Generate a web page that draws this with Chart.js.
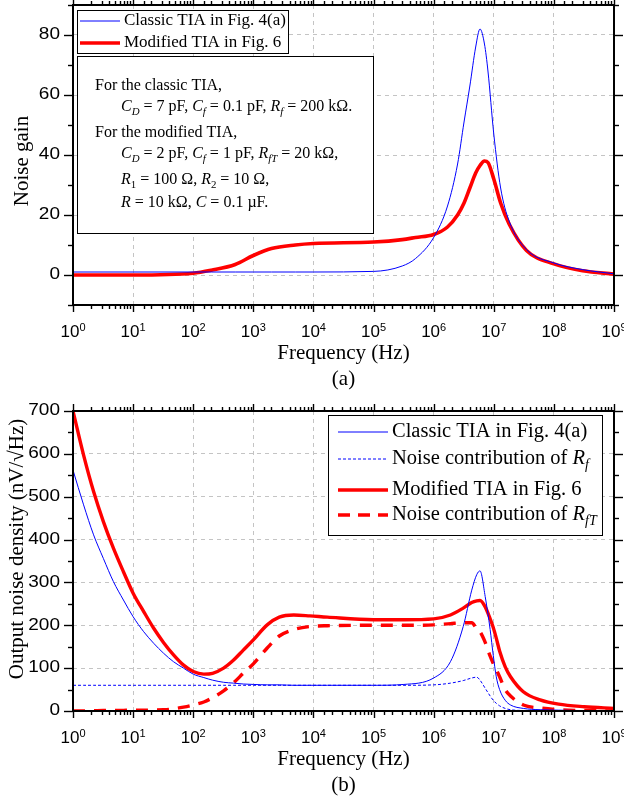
<!DOCTYPE html>
<html>
<head>
<meta charset="utf-8">
<script src="https://cdn.jsdelivr.net/npm/chart.js@4.4.0/dist/chart.umd.min.js"></script>
<style>
  html, body { margin: 0; padding: 0; background: #fff; }
  #wrap { position: relative; width: 624px; height: 799px; }
  canvas { position: absolute; left: 0; }
</style>
</head>
<body>
<div id="wrap">
  <canvas id="gain" width="624" height="400" style="top:0"></canvas>
  <canvas id="noise" width="624" height="399" style="top:400px"></canvas>
</div>
<script>
// ---- (a) noise gain ----
const freqGain = [1, 10, 100, 200, 500, 1e3, 2e3, 5e3, 1e4, 1e5, 3e5, 5e5, 1e6, 1.7e6, 2.5e6, 3.2e6,
  4e6, 5e6, 5.9e6, 7e6, 8e6, 1e7, 1.3e7, 1.8e7, 3.5e7, 1e8, 3e8, 1e9];
const classicGain = [1, 1, 1, 1, 1, 1, 1, 1, 1, 1.2, 3, 5.5, 12.5, 23, 37, 51,
  63, 76, 82, 77, 68, 47, 29, 18, 8.5, 4, 1.8, 0.4];
const modifiedGain = [0, 0, 0.6, 1.6, 3.5, 6.5, 8.8, 10, 10.5, 11, 11.8, 12.5, 13.5, 16, 20, 24,
  29, 34, 36.5, 38, 37.5, 32, 24, 17, 8.2, 3.7, 1.4, 0.3];

// ---- (b) output noise density (nV/sqrt(Hz)) ----
const freqNoise = [1, 1.5, 2.2, 3.2, 4.7, 6.9, 10, 15, 22, 32, 47, 69, 100, 150, 210, 320, 470, 680,
  1000, 1700, 2700, 4700, 8700, 1.7e4, 1e5, 3.2e5, 1e6, 1.9e6, 3.1e6, 4.3e6, 5.2e6, 5.9e6,
  7.2e6, 8.7e6, 9.8e6, 1.1e7, 1.25e7, 1.55e7, 1.9e7, 3.1e7, 5.9e7, 1.2e8, 3.2e8, 1e9];
const classicNoise = [562, 481, 411, 356, 302, 259, 220, 185, 158, 135, 115, 100, 86, 78, 72, 67, 65, 63,
  62, 61, 61, 60, 60, 60, 60, 62, 77, 115, 197, 282, 318, 327,
  267, 190, 130, 80, 50, 25, 14, 6, 3, 2, 1, 1];
const rfNoise = [60, 60, 60, 60, 60, 60, 60, 60, 60, 60, 60, 60, 60, 60, 60, 60, 60, 60,
  60, 60, 60, 60, 60, 60, 60, 60, 61, 65, 71, 77, 79, 72,
  53, 35, 25, 18, 12, 6, 3, 1, 0, 0, 0, 0];
const modifiedNoise = [700, 597, 512, 442, 380, 325, 275, 232, 193, 160, 131, 107, 92, 86, 88, 100, 119, 142,
  166, 201, 219, 224, 222, 219, 213, 213, 215, 224, 240, 253, 257, 258,
  243, 215, 195, 170, 140, 103, 80, 45, 26, 16, 10, 6];
const rftNoise = [0, 0, 0.5, 1, 1, 1.5, 2, 2, 2.5, 3, 5, 9, 14, 21, 31, 47, 66, 88,
  110, 147, 175, 190, 197, 199, 200, 200, 201, 204, 206, 206, 192, 185,
  160, 128, 111, 97, 80, 50, 35, 14, 7, 3, 1, 0];

const decadeExps = [0, 1, 2, 3, 4, 5, 6, 7, 8, 9];
const gainTicks = [0, 20, 40, 60, 80];
const noiseTicks = [0, 100, 200, 300, 400, 500, 600, 700];

const serif = '"Liberation Serif", "Times New Roman", serif';
const sans = '"Liberation Sans", Arial, sans-serif';

const pts = (xs, ys) => xs.map((x, i) => ({ x, y: ys[i] }));
const isDecade = v => Math.abs(Math.log10(v) - Math.round(Math.log10(v))) < 1e-6;

// text with italic / subscript pieces: [text, kind]  n=normal i=italic s=italic sub b=plain sub
function rich(ctx, parts, x, y, size) {
  let cx = x;
  parts.forEach(([t, k]) => {
    const sub = k === 's' || k === 'b';
    const fs = sub ? size * 0.68 : size;
    ctx.font = ((k === 'i' || k === 's') ? 'italic ' : '') + fs + 'px ' + serif;
    ctx.fillText(t, cx, sub ? y + size * 0.3 : y);
    cx += ctx.measureText(t).width;
  });
  return cx;
}

function seg(ctx, x1, y1, x2, y2) {
  ctx.beginPath(); ctx.moveTo(x1, y1); ctx.lineTo(x2, y2); ctx.stroke();
}

const decor = {
  id: 'decor',
  afterDraw(chart, args, o) {
    const { ctx, chartArea: a, scales: { x, y } } = chart;
    ctx.save();
    ctx.strokeStyle = '#000';
    ctx.fillStyle = '#000';

    // tick marks on all four sides
    ctx.lineWidth = 1.4;
    x.ticks.forEach(t => {
      const px = Math.round(x.getPixelForValue(t.value)) + 0.5;
      const len = isDecade(t.value) ? 7 : 4;
      seg(ctx, px, a.bottom, px, a.bottom + len);
      seg(ctx, px, a.top, px, a.top - len);
    });
    y.ticks.forEach(t => {
      const py = Math.round(y.getPixelForValue(t.value)) + 0.5;
      const len = o.yMajor.includes(t.value) ? 9 : 5;
      seg(ctx, a.left, py, a.left - len, py);
      seg(ctx, a.right, py, a.right + len, py);
    });

    // frame
    ctx.lineWidth = 2;
    ctx.strokeRect(a.left, a.top, a.right - a.left, a.bottom - a.top);

    // x tick labels 10^k
    ctx.textBaseline = 'alphabetic';
    ctx.textAlign = 'left';
    decadeExps.forEach(k => {
      const px = x.getPixelForValue(Math.pow(10, k));
      ctx.font = '17px ' + sans;
      const w1 = ctx.measureText('10').width;
      ctx.font = '11px ' + sans;
      const w2 = ctx.measureText(String(k)).width;
      const sx = px - (w1 + w2) / 2;
      ctx.font = '17px ' + sans;
      ctx.fillText('10', sx, a.bottom + 32);
      ctx.font = '11px ' + sans;
      ctx.fillText(String(k), sx + w1, a.bottom + 26);
    });

    // y tick labels
    ctx.textAlign = 'right';
    ctx.textBaseline = 'middle';
    ctx.font = '19px ' + sans;
    o.yMajor.forEach(v => {
      const py = y.getPixelForValue(v);
      ctx.save();
      ctx.translate(a.left - 13, py);
      ctx.scale(1, 0.82);
      ctx.fillText(String(v), 0, 0);
      ctx.restore();
    });

    // axis titles and caption
    ctx.textAlign = 'center';
    ctx.font = '21px ' + serif;
    const cx = (a.left + a.right) / 2;
    ctx.fillText('Frequency (Hz)', cx, a.bottom + 48);
    ctx.fillText(o.caption, cx, a.bottom + 74);
    ctx.save();
    ctx.translate(o.yTitleX, o.yTitleY);
    ctx.rotate(-Math.PI / 2);
    ctx.fillText(o.yTitle, 0, 0);
    ctx.restore();

    // legend box
    const L = o.legend;
    ctx.fillStyle = '#fff';
    ctx.fillRect(L.box[0], L.box[1], L.box[2] - L.box[0], L.box[3] - L.box[1]);
    ctx.lineWidth = 1;
    ctx.strokeStyle = '#000';
    ctx.strokeRect(L.box[0] + 0.5, L.box[1] + 0.5, L.box[2] - L.box[0], L.box[3] - L.box[1]);
    ctx.textAlign = 'left';
    L.rows.forEach(r => {
      ctx.strokeStyle = r.color;
      ctx.lineWidth = r.width;
      ctx.setLineDash(r.dash || []);
      seg(ctx, L.sample[0], r.y, L.sample[1], r.y);
      ctx.setLineDash([]);
      ctx.fillStyle = '#000';
      rich(ctx, r.parts, L.textX, r.y, L.size);
    });

    // parameter note box
    const N = o.note;
    if (N) {
      ctx.fillStyle = '#fff';
      ctx.fillRect(N.box[0], N.box[1], N.box[2] - N.box[0], N.box[3] - N.box[1]);
      ctx.strokeStyle = '#000';
      ctx.lineWidth = 1;
      ctx.strokeRect(N.box[0] + 0.5, N.box[1] + 0.5, N.box[2] - N.box[0], N.box[3] - N.box[1]);
      ctx.fillStyle = '#000';
      N.lines.forEach(l => rich(ctx, l.parts, l.x, l.y, N.size));
    }
    ctx.restore();
  }
};
Chart.register(decor);

function baseOptions(yMin, yMax, yStep, gridEvery, layoutTop, xHeight, deco) {
  return {
    responsive: false,
    animation: false,
    layout: { padding: { left: 0, right: 10, top: layoutTop, bottom: 0 } },
    elements: { point: { radius: 0 }, line: { cubicInterpolationMode: 'monotone' } },
    plugins: { legend: { display: false }, tooltip: { enabled: false }, decor: deco },
    scales: {
      x: {
        type: 'logarithmic', min: 1, max: 1e9,
        ticks: { display: false, autoSkip: false },
        border: { display: false, dash: [4, 4] },
        grid: {
          drawTicks: false, lineWidth: 1,
          color: c => (isDecade(c.tick.value) ? '#c4c4c4' : 'rgba(0,0,0,0)')
        },
        afterFit: s => { s.height = xHeight; }
      },
      y: {
        min: yMin, max: yMax,
        ticks: { display: false, stepSize: yStep, autoSkip: false },
        border: { display: false, dash: [4, 4] },
        grid: {
          drawTicks: false, lineWidth: 1,
          color: c => (c.tick.value % gridEvery === 0 ? '#c4c4c4' : 'rgba(0,0,0,0)')
        },
        afterFit: s => { s.width = 73; }
      }
    }
  };
}

new Chart(document.getElementById('gain'), {
  type: 'line',
  data: {
    datasets: [
      { label: 'Classic TIA in Fig. 4(a)', data: pts(freqGain, classicGain), borderColor: '#0000ff', borderWidth: 1 },
      { label: 'Modified TIA in Fig. 6', data: pts(freqGain, modifiedGain), borderColor: '#ff0000', borderWidth: 3.6 }
    ]
  },
  options: baseOptions(-10, 90, 10, 20, 5, 95, {
    yMajor: gainTicks,
    caption: '(a)',
    yTitle: 'Noise gain', yTitleX: 22, yTitleY: 161,
    legend: {
      box: [77, 10, 288, 53], sample: [80, 120], textX: 124, size: 17,
      rows: [
        { y: 21, color: '#0000ff', width: 1, parts: [['Classic TIA in Fig. 4(a)', 'n']] },
        { y: 43, color: '#ff0000', width: 3.6, parts: [['Modified TIA in Fig. 6', 'n']] }
      ]
    },
    note: {
      box: [77, 56, 373, 233], size: 16,
      lines: [
        { x: 95, y: 86, parts: [['For the classic TIA,', 'n']] },
        { x: 121, y: 107, parts: [['C', 'i'], ['D', 's'], [' = 7 pF, ', 'n'], ['C', 'i'], ['f', 's'],
          [' = 0.1 pF, ', 'n'], ['R', 'i'], ['f', 's'], [' = 200 kΩ.', 'n']] },
        { x: 95, y: 133, parts: [['For the modified TIA,', 'n']] },
        { x: 121, y: 154, parts: [['C', 'i'], ['D', 's'], [' = 2 pF, ', 'n'], ['C', 'i'], ['f', 's'],
          [' = 1 pF, ', 'n'], ['R', 'i'], ['fT', 's'], [' = 20 kΩ,', 'n']] },
        { x: 121, y: 180, parts: [['R', 'i'], ['1', 'b'], [' = 100 Ω, ', 'n'], ['R', 'i'], ['2', 'b'], [' = 10 Ω,', 'n']] },
        { x: 121, y: 203, parts: [['R', 'i'], [' = 10 kΩ, ', 'n'], ['C', 'i'], [' = 0.1 µF.', 'n']] }
      ]
    }
  })
});

new Chart(document.getElementById('noise'), {
  type: 'line',
  data: {
    datasets: [
      { label: 'Classic TIA in Fig. 4(a)', data: pts(freqNoise, classicNoise), borderColor: '#0000ff', borderWidth: 1 },
      { label: 'Noise contribution of Rf', data: pts(freqNoise, rfNoise), borderColor: '#0000ff', borderWidth: 1, borderDash: [3, 2] },
      { label: 'Modified TIA in Fig. 6', data: pts(freqNoise, modifiedNoise), borderColor: '#ff0000', borderWidth: 3.4 },
      { label: 'Noise contribution of RfT', data: pts(freqNoise, rftNoise), borderColor: '#ff0000', borderWidth: 3.4, borderDash: [12, 9] }
    ]
  },
  options: baseOptions(0, 700, 50, 100, 11, 88, {
    yMajor: noiseTicks,
    caption: '(b)',
    yTitle: 'Output noise density (nV/√Hz)', yTitleX: 17, yTitleY: 149,
    legend: {
      box: [328, 15, 602, 135], sample: [338, 388], textX: 392, size: 20.5,
      rows: [
        { y: 32, color: '#0000ff', width: 1, parts: [['Classic TIA in Fig. 4(a)', 'n']] },
        { y: 59, color: '#0000ff', width: 1, dash: [3, 2], parts: [['Noise contribution of ', 'n'], ['R', 'i'], ['f', 's']] },
        { y: 90, color: '#ff0000', width: 3.4, parts: [['Modified TIA in Fig. 6', 'n']] },
        { y: 115, color: '#ff0000', width: 3.4, dash: [12, 8], parts: [['Noise contribution of ', 'n'], ['R', 'i'], ['fT', 's']] }
      ]
    }
  })
});
</script>
</body>
</html>
